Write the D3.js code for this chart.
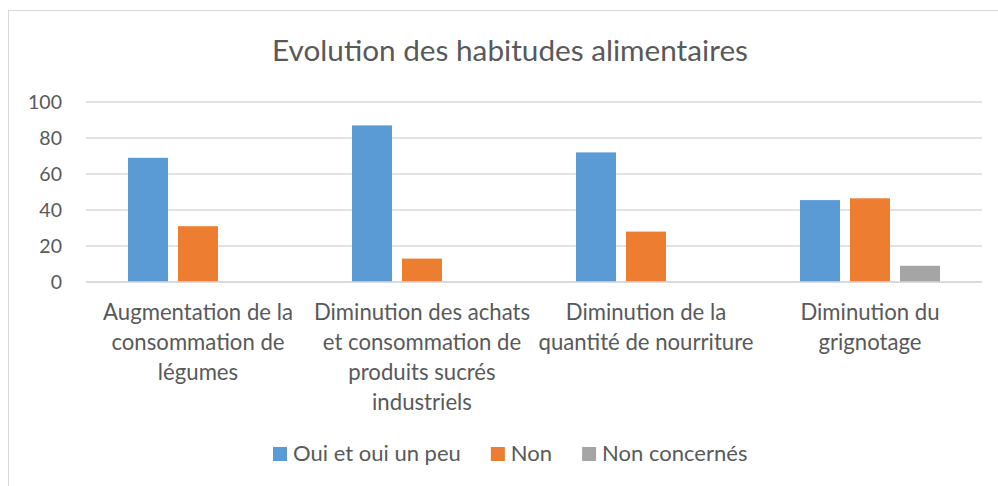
<!DOCTYPE html>
<html>
<head>
<meta charset="utf-8">
<script src="https://cdn.jsdelivr.net/npm/d3@7"></script>
<style>
  html, body { margin: 0; padding: 0; background: #fff; }
  svg { display: block; }
  text { font-family: Lato, "Open Sans", sans-serif; fill: #595959; }
</style>
</head>
<body>
<svg id="chart" width="998" height="486"></svg>
<script>
// Chart data
const title = "Evolution des habitudes alimentaires";
const categories = [
  ["Augmentation de la", "consommation de", "légumes"],
  ["Diminution des achats", "et consommation de", "produits sucrés", "industriels"],
  ["Diminution de la", "quantité de nourriture"],
  ["Diminution du", "grignotage"]
];
const seriesNames = ["Oui et oui un peu", "Non", "Non concernés"];
const seriesColors = ["#5B9BD5", "#ED7D31", "#A5A5A5"];
const ouiValues = [69, 87, 72, 45.5];
const nonValues = [31, 13, 28, 46.5];
const nonConcernesValues = [0, 0, 0, 9];
const yTicks = [0, 20, 40, 60, 80, 100];

const seriesValues = [ouiValues, nonValues, nonConcernesValues];
const catKeys = categories.map((c, i) => i);

const svg = d3.select("#chart");

// Fit a font size so that the given string spans the target width
function fitSize(str, target, base) {
  const t = svg.append("text").style("font-size", base + "px").text(str);
  const w = t.node().getComputedTextLength();
  t.remove();
  return base * target / w;
}

// Outer chart frame (only left and top edges fall inside the view)
svg.append("rect")
  .attr("x", 8.5).attr("y", 10.5)
  .attr("width", 1100).attr("height", 600)
  .attr("fill", "none").attr("stroke", "#D9D9D9").attr("stroke-width", 1);

// Scales
const x0 = d3.scaleBand().domain(catKeys).range([86, 982]).paddingInner(0).paddingOuter(0);
const groupWidth = 140;
const x1 = d3.scaleBand().domain(d3.range(seriesNames.length))
  .range([(x0.bandwidth() - groupWidth) / 2, (x0.bandwidth() + groupWidth) / 2])
  .paddingInner(0.2).paddingOuter(0);
const y = d3.scaleLinear().domain([0, 100]).range([282, 102]);

// Gridlines
svg.append("g")
  .selectAll("line")
  .data(yTicks)
  .join("line")
  .attr("x1", x0.range()[0]).attr("x2", x0.range()[1])
  .attr("y1", d => y(d)).attr("y2", d => y(d))
  .attr("stroke", "#D9D9D9").attr("stroke-width", 1.5);

// Y axis tick labels
const tickSize = fitSize("100", 34, 20);
const yAxis = d3.axisLeft(y).tickValues(yTicks).tickSize(0).tickPadding(0);
const yg = svg.append("g").attr("transform", "translate(62,0)").call(yAxis);
yg.select(".domain").remove();
yg.selectAll("text")
  .style("font-size", tickSize + "px")
  .style("font-family", "Lato, 'Open Sans', sans-serif")
  .attr("fill", "#595959");

// Bars
const groups = svg.append("g")
  .selectAll("g")
  .data(catKeys)
  .join("g")
  .attr("transform", d => `translate(${x0(d)},0)`);

groups.selectAll("rect")
  .data(ci => seriesValues.map((vals, si) => ({ si, v: vals[ci] })).filter(d => d.v > 0))
  .join("rect")
  .attr("x", d => x1(d.si))
  .attr("width", x1.bandwidth())
  .attr("y", d => y(d.v))
  .attr("height", d => y(0) - y(d.v))
  .attr("fill", d => seriesColors[d.si]);

// Redraw the baseline over the bars
svg.append("line")
  .attr("x1", x0.range()[0]).attr("x2", x0.range()[1])
  .attr("y1", y(0)).attr("y2", y(0))
  .attr("stroke", "#D9D9D9").attr("stroke-width", 1.5);

// Category labels
const labelSize = fitSize("Augmentation de la", 190, 20);
const labelG = svg.append("g");
categories.forEach((lines, i) => {
  const t = labelG.append("text")
    .attr("text-anchor", "middle")
    .style("font-size", labelSize + "px")
    .attr("x", x0(i) + x0.bandwidth() / 2)
    .attr("y", 320);
  lines.forEach((ln, j) => {
    t.append("tspan")
      .attr("x", x0(i) + x0.bandwidth() / 2)
      .attr("dy", j === 0 ? 0 : 30)
      .text(ln);
  });
});

// Title
const titleSize = fitSize(title, 476, 24);
svg.append("text")
  .attr("x", 510).attr("y", 61)
  .attr("text-anchor", "middle")
  .style("font-size", titleSize + "px")
  .text(title);

// Legend
const legendSize = fitSize(seriesNames[0], 168, 20);
const legend = svg.append("g");
let lx = 273;
seriesNames.forEach((name, i) => {
  legend.append("rect")
    .attr("x", lx).attr("y", 447)
    .attr("width", 14).attr("height", 14)
    .attr("fill", seriesColors[i]);
  const t = legend.append("text")
    .attr("x", lx + 20).attr("y", 461)
    .style("font-size", legendSize + "px")
    .text(name);
  lx += 20 + t.node().getComputedTextLength() + 30;
});
</script>
</body>
</html>
